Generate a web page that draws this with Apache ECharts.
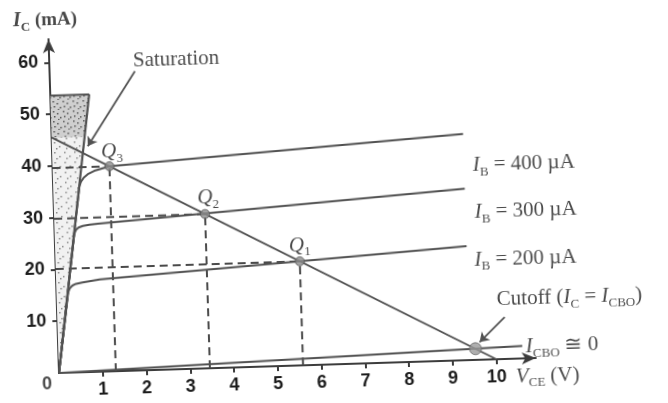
<!DOCTYPE html>
<html>
<head>
<meta charset="utf-8">
<script src="https://cdn.jsdelivr.net/npm/echarts@6/dist/echarts.min.js"></script>
<style>
  html, body { margin: 0; padding: 0; background: #fff; }
  #chart { width: 668px; height: 403px; transform: rotate(-1.8deg); transform-origin: 59px 373px; }
</style>
</head>
<body>
<div id="chart"></div>
<script>
// Common-emitter output characteristics with a DC load line (I_C in mA vs V_CE in V)
const vceTicks = [1, 2, 3, 4, 5, 6, 7, 8, 9, 10];
const icTicks = [10, 20, 30, 40, 50, 60];

// base-current curves: steep rise, knee, then nearly flat active region
const ib200 = [[0, 0], [0.27, 15.6], [0.31, 16.3], [0.37, 16.8], [0.45, 17.1], [0.6, 17.35], [1, 17.8], [9.4, 22]];
const ib300 = [[0, 0], [0.45, 26.8], [0.49, 27.5], [0.55, 27.95], [0.65, 28.25], [0.8, 28.45], [1, 28.6], [9.4, 33.1]];
const ib400 = [[0, 0], [0.6, 35.9], [0.64, 36.8], [0.7, 37.5], [0.8, 38.2], [0.95, 38.8], [1.3, 39.6], [9.4, 43.7]];

// saturation region, leakage line and load line
const saturationEdge = [[0, 0], [0.89, 53.6]];
const saturationTop = [[0, 53.6], [0.89, 53.6]];
const saturationLower = [[0, 0], [0, 45.5], [0.755, 45.5]];
const saturationUpper = [[0, 45.5], [0, 53.6], [0.89, 53.6], [0.755, 45.5]];
const iCBO = [[0, 0], [10.6, 2.4]];
const loadLine = [[0, 45.5], [10, 0]];

// operating points
const qPoints = [[5.58, 20.1], [3.45, 29.8], [1.3, 39.6]];
const qNames = ['1', '2', '3'];
const cutoffPoint = [9.53, 2.16];

// arrows pointing at the saturation and cutoff regions
const saturationArrow = [[1.95, 57.8], [0.82, 43.6]];
const cutoffArrow = [[10.22, 8.07], [9.63, 3.42]];

const ink = '#1c1c1c';
const lineGray = '#515151';
const serif = 'Liberation Serif';

const rich = {
  i: { fontFamily: serif, fontStyle: 'italic', fontSize: 21, lineHeight: 26, verticalAlign: 'middle', color: ink },
  t: { fontFamily: serif, fontSize: 21, lineHeight: 26, verticalAlign: 'middle', color: ink },
  s: { fontFamily: serif, fontSize: 13, lineHeight: 13, verticalAlign: 'bottom', color: ink },
  ib: { fontFamily: serif, fontStyle: 'italic', fontWeight: 'bold', fontSize: 20, lineHeight: 26, verticalAlign: 'middle', color: ink },
  tb: { fontFamily: serif, fontWeight: 'bold', fontSize: 19, lineHeight: 26, verticalAlign: 'middle', color: ink },
  sb: { fontFamily: serif, fontWeight: 'bold', fontSize: 13, lineHeight: 13, verticalAlign: 'bottom', color: ink },
  n: { fontFamily: 'Liberation Sans', fontWeight: 'bold', fontSize: 18, color: ink }
};

// stipple texture for the saturation region
function stipple(base, dot, dots) {
  const c = document.createElement('canvas');
  c.width = 10; c.height = 10;
  const g = c.getContext('2d');
  g.fillStyle = base; g.fillRect(0, 0, 10, 10);
  g.fillStyle = dot;
  dots.forEach(d => g.fillRect(d[0], d[1], 1.5, 1.5));
  return { image: c, repeat: 'repeat' };
}
const lightFill = stipple('#f1f1f1', '#8a8a8a', [[1, 2], [6, 6], [3, 8]]);
const darkFill = stipple('#cfcfcf', '#555', [[1, 1], [5, 3], [8, 7], [2, 6], [6, 9]]);

function region(points, fill) {
  return {
    type: 'custom',
    data: [[0, 0]],
    silent: true,
    z: 1,
    renderItem: (params, api) => ({
      type: 'polygon',
      shape: { points: points.map(p => api.coord(p)) },
      style: { fill: fill, stroke: null }
    })
  };
}

function curve(data, width, z) {
  return {
    type: 'line', data: data, showSymbol: false, symbol: 'none', z: z || 3,
    smooth: false,
    lineStyle: { color: lineGray, width: width || 2, join: 'round' }
  };
}

const dashStyle = { color: '#4a4a4a', width: 2, type: [8, 5] };
const dashSeries = [];
qPoints.forEach(p => {
  dashSeries.push({ type: 'line', data: [[p[0], 0], p], showSymbol: false, symbol: 'none', z: 2, lineStyle: dashStyle });
  dashSeries.push({ type: 'line', data: [[0, p[1]], p], showSymbol: false, symbol: 'none', z: 2, lineStyle: dashStyle });
});

// text annotations anchored in data coordinates
function note(pos, text, place) {
  return { value: pos, label: { show: true, formatter: text, position: place || 'right', distance: 0 } };
}
const notes = [
  note([-0.80, 68.2], '{ib|I}{sb|C}{tb| (mA)}'),
  note([2.9, 59.8], '{t|Saturation}', 'inside'),
  note([9.60, 37.5], '{i|I}{s|B}{t| = 400 µA}'),
  note([9.61, 28.4], '{i|I}{s|B}{t| = 300 µA}'),
  note([9.57, 19.2], '{i|I}{s|B}{t| = 200 µA}'),
  note([10.05, 11.4], '{t|Cutoff (}{i|I}{s|C}{t| = }{i|I}{s|CBO}{t|)}'),
  note([10.68, 2.2], '{i|I}{s|CBO}{t| ≅ 0}'),
  note([10.43, -3.5], '{i|V}{s|CE}{t| (V)}'),
  note([-0.28, -2.2], '{n|0}', 'inside'),
  note([1.37, 42.3], '{i|Q}{s|' + qNames[2] + '}', 'inside'),
  note([3.53, 32.9], '{i|Q}{s|' + qNames[1] + '}', 'inside'),
  note([5.59, 23.1], '{i|Q}{s|' + qNames[0] + '}', 'inside')
];

const chart = echarts.init(document.getElementById('chart'), null, { renderer: 'canvas' });
chart.setOption({
  animation: false,
  backgroundColor: '#fff',
  grid: { left: 59, top: 39, width: 477, height: 334, containLabel: false },
  xAxis: {
    type: 'value', min: 0, max: 10.9, interval: 1,
    axisLine: { show: true, onZero: false, symbol: ['none', 'arrow'], symbolSize: [9, 14], lineStyle: { color: '#3c3c3c', width: 2 } },
    axisTick: { show: true, length: 5, customValues: vceTicks, lineStyle: { color: '#3c3c3c', width: 2 } },
    axisLabel: {
      customValues: vceTicks, margin: 9,
      formatter: v => (vceTicks.indexOf(v) >= 0 ? String(v) : ''),
      fontFamily: 'Liberation Sans', fontWeight: 'bold', fontSize: 18, color: ink
    },
    splitLine: { show: false }
  },
  yAxis: {
    type: 'value', min: 0, max: 64.5, interval: 10,
    axisLine: { show: true, onZero: false, symbol: ['none', 'arrow'], symbolSize: [9, 14], lineStyle: { color: '#3c3c3c', width: 2 } },
    axisTick: { show: true, length: 5, customValues: icTicks, lineStyle: { color: '#3c3c3c', width: 2 } },
    axisLabel: {
      customValues: icTicks, margin: 11,
      formatter: v => (icTicks.indexOf(v) >= 0 ? String(v) : ''),
      fontFamily: 'Liberation Sans', fontWeight: 'bold', fontSize: 18, color: ink
    },
    splitLine: { show: false }
  },
  series: [
    region(saturationLower, lightFill),
    region(saturationUpper, darkFill),
    ...dashSeries,
    curve(saturationTop, 2),
    curve(saturationEdge, 2.2),
    curve(ib200), curve(ib300), curve(ib400),
    curve(iCBO, 2),
    curve(loadLine, 1.8, 4),
    {
      type: 'lines', coordinateSystem: 'cartesian2d', z: 5,
      symbol: ['none', 'arrow'], symbolSize: 9,
      lineStyle: { color: lineGray, width: 1.8, opacity: 1 },
      data: [{ coords: saturationArrow }, { coords: cutoffArrow }]
    },
    {
      type: 'scatter', z: 6, symbolSize: 9,
      itemStyle: { color: '#8c8c8c', borderColor: '#555', borderWidth: 1 },
      data: qPoints
    },
    {
      type: 'scatter', z: 6, symbolSize: 12,
      itemStyle: { color: '#9a9a9a', borderColor: '#666', borderWidth: 1 },
      data: [cutoffPoint]
    },
    {
      type: 'scatter', z: 7, symbolSize: 0, clip: false, silent: true,
      label: { show: true, rich: rich },
      data: notes
    }
  ]
});
</script>
</body>
</html>
